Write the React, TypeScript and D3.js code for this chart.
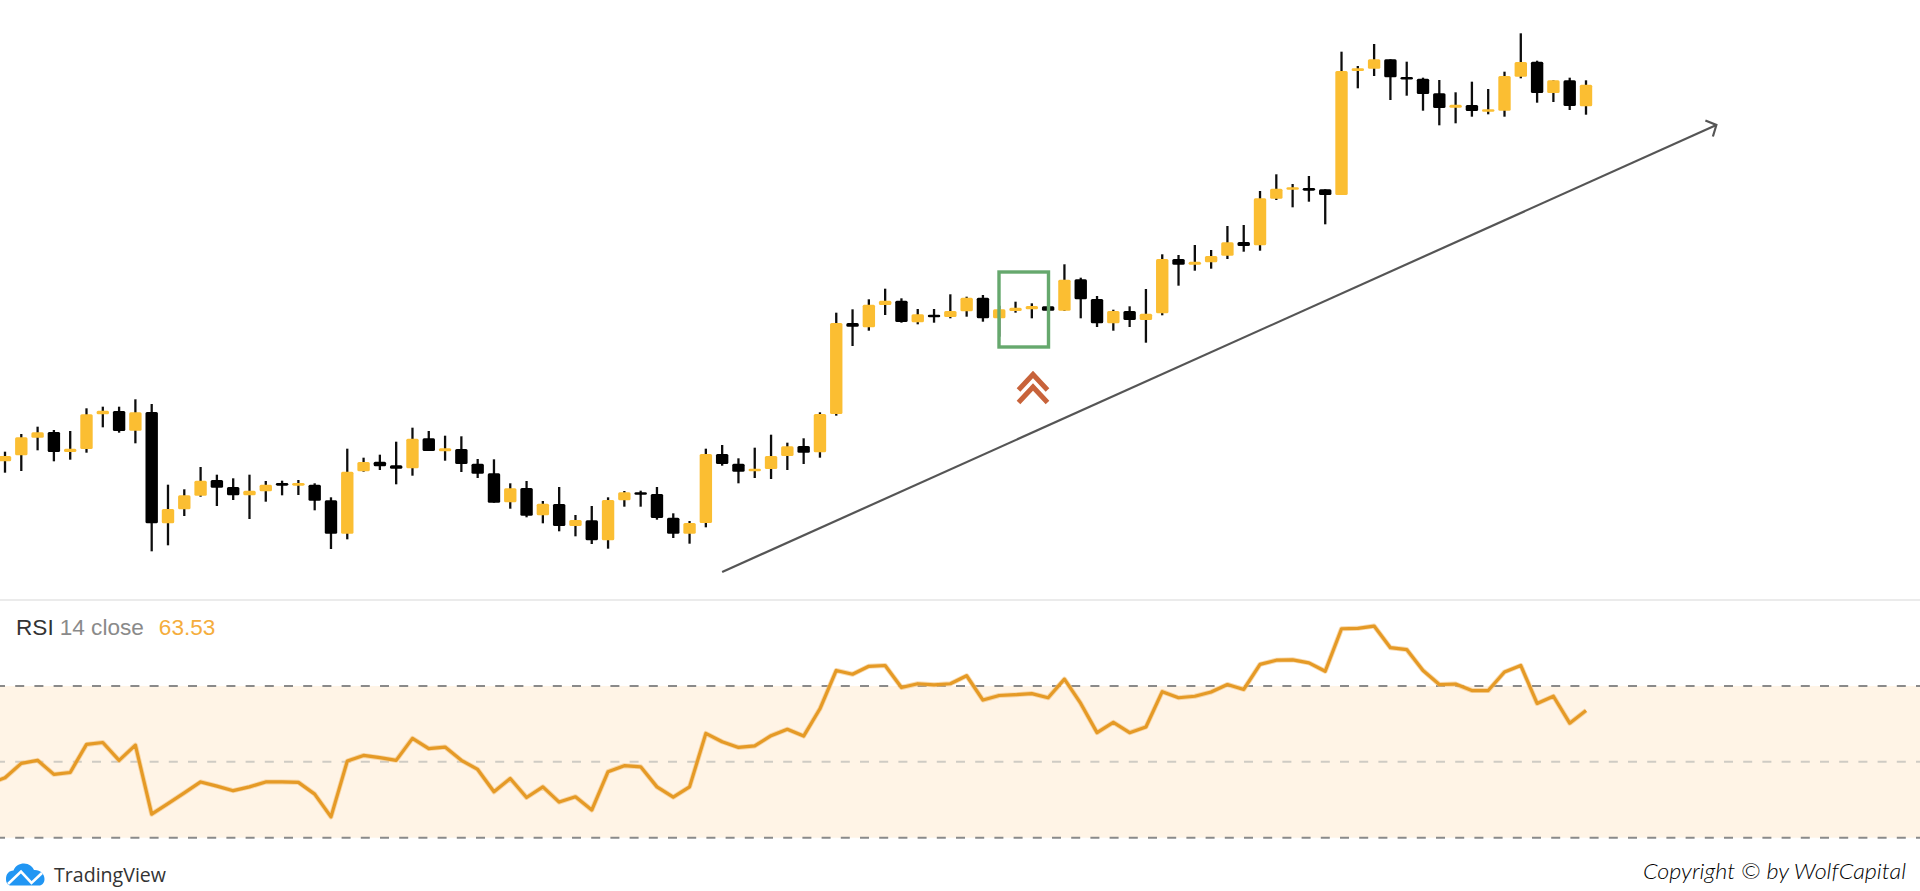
import React from "react";
import * as d3 from "d3";

const highs = [148.3,166,173.3,170,169,191.7,193.3,193.3,200.7,196,115.3,110.7,133,125.3,121.7,125.3,119,119.3,120,116.7,102.7,151.3,142.3,145.3,158.3,172.3,169,164.3,163.7,141,140.7,116.7,119,99,113,85,94,102.7,109,109.3,113,86.7,79,151.3,155,141.7,152.3,165.3,157.3,161.7,187.7,287.3,290.7,300.7,311.3,301.7,291,291,305.7,303.3,305,294.3,298.3,296.7,300,335.7,322.3,304,290.3,293.7,311,345.7,345,355,350,374,375,409,425.7,416,424,410.7,548.3,534,556,540.7,538.3,522.3,520,507.7,518.3,511,528.3,566.7,539.3,519.7,522.3,519.7];
const lows = [127.3,129,149.7,138.7,140.3,147.3,172.7,167.3,156.7,48.7,54.7,84,103.3,94,100,81,98.3,104.7,105,89.7,51,60.7,128.3,130,115.7,124.3,149,139.3,128,122,97.3,91.3,82.7,76.7,68.7,63.7,56,51.3,93.3,93.3,80.3,62,56.3,72.7,134.3,116.7,122,121,130,136,142.3,184.3,254,269.3,285,277.3,275.7,277.3,281.7,283.3,278.3,263.3,287.3,281.7,285,289,281.7,273,269.3,273,257.3,284.7,314.3,329.3,331.3,341,348.3,349.3,400,392.7,398.3,375.7,405,511.7,524,500,504.3,489.3,474.7,476.7,483.3,485.7,483.3,521.7,497.3,498,490,485.3];
const opens = [138.7,144.7,162.3,168,148,151,185.7,189,169.3,188,76.7,90.7,104.3,120,113,104.7,108.7,117,114.3,115.3,99.7,66.3,128.7,138.3,134.7,131.7,161.7,148.7,151,136.3,126.7,97.7,112,84.7,96,74,79.7,59.7,99.7,107.7,106,82.3,66.3,77,146,136.3,128.7,131,144,154,147.7,186,277,272.7,295,299.3,277.7,285.3,283,288.7,302.3,281.7,289,290.7,293.7,289.3,320.7,301,276.7,289,280,286.7,341,335.3,337.7,344.3,358,354.7,401.3,410.7,412,410.7,405,529,531.3,540.7,523,521.3,506.7,492.3,495,488.7,489.3,523.3,538.3,507,519.7,493.7];
const closes = [144,162.7,167.7,148,151.3,185.7,189.3,169,187.7,76.7,91,104.7,119.3,112.3,104.7,109.3,115.3,114.3,117,99.3,66.3,128.3,138,133.7,131.3,161.3,149,151.7,136,126.3,97.3,111.7,84.3,96.3,74,80,59.7,100,107.7,105.3,82,66.3,77,146,136,128.3,131.3,144,153.7,147.3,186,277,273.3,295.3,299.3,278,285.7,282.7,289,302.3,281.7,290.7,292.3,294,289.3,320.3,300.7,276.7,289,280,286.3,341,335.3,338.3,344,357.7,354,401.7,411.3,412.7,409.3,405,529,531.7,540.7,522.7,521,506,492,495.3,489,490.7,524,538,507,519.7,494,515.3];
// The first value belongs to the bar just off the left edge of the chart.
const rsi = [44.2,45.8,49.6,50.4,46.7,47.2,54.6,55.1,50.4,54.4,36.2,39,41.8,44.7,43.6,42.4,43.4,44.7,44.7,44.6,41.5,35.5,50.2,51.7,51.1,50.4,56.2,53.5,53.9,50.4,48,42.1,45.6,40.6,43.4,39.4,40.8,37.3,47.4,49,48.7,43.4,40.7,43.4,57.5,55.3,53.8,54.2,56.9,58.6,56.8,64,74.1,73.1,75.2,75.4,69.6,70.6,70.3,70.6,72.7,66.3,67.5,67.7,68,66.9,71.8,65.4,57.7,60.4,57.7,59.2,68.5,66.9,67.3,68.4,70.4,69.1,75.7,76.8,76.9,76.1,73.9,85.1,85.2,85.8,80.1,79.6,74.1,70.4,70.5,68.8,68.8,73.7,75.4,65.4,67.3,60.2,63.53];
const rsiLevels = [70, 50, 30];
const trendStart = { i: 44.0, price: 28 };
const trendEnd = { i: 105, price: 475 };

const YELLOW = "#fbbe33";
const W = 1920, H = 891;

export default function App() {
  const x = d3.scaleLinear().domain([0, 97]).range([5, 1586]);
  const y = d3.scaleLinear().domain([0, 600]).range([600, 0]);
  const ry = d3.scaleLinear().domain([30, 70]).range([837.7, 686]);
  const rsiLine = d3.line<number>().x((_, i) => x(i - 1)).y((d) => ry(d)).curve(d3.curveLinear);
  const bw = 12.4;

  const ax = x(trendStart.i), ay = y(trendStart.price), bx = x(trendEnd.i), by = y(trendEnd.price);

  return (
    <svg width={W} height={H} viewBox={`0 0 ${W} ${H}`} style={{ position: "absolute", left: 0, top: 0, background: "#fff" }}>
      <defs>
        <filter id="soft" x="-2%" y="-2%" width="104%" height="104%">
          <feGaussianBlur stdDeviation="0.45" />
        </filter>
      </defs>

      <g filter="url(#soft)">
        {closes.map((c, i) => {
          const up = c >= opens[i];
          const top = y(Math.max(c, opens[i]));
          const bot = y(Math.min(c, opens[i]));
          return (
            <g key={i}>
              <line x1={x(i)} x2={x(i)} y1={y(highs[i])} y2={y(lows[i])} stroke="#111" strokeWidth={2.3} />
              <rect x={x(i) - bw / 2} y={top} width={bw} height={Math.max(bot - top, 2.4)} rx={1.5} fill={up ? YELLOW : "#000"} />
            </g>
          );
        })}

        <line x1={ax} y1={ay} x2={bx} y2={by} stroke="#555" strokeWidth={2.2} />
        <path d={`M${bx - 11},${by - 4.5} L${bx},${by} L${bx - 3.5},${by + 11.5}`} fill="none" stroke="#555" strokeWidth={2.2} />

        <rect x={999} y={272} width={49.5} height={75} fill="none" stroke="#66a86d" strokeWidth={3.4} />
        <path d="M1018.5,390 L1033,374.5 L1047.5,390" fill="none" stroke="#c8643a" strokeWidth={5} />
        <path d="M1018.5,402.5 L1033,387 L1047.5,402.5" fill="none" stroke="#c8643a" strokeWidth={5} />
      </g>

      <line x1={0} x2={W} y1={600} y2={600} stroke="#e4e4e4" strokeWidth={1.6} />
      <rect x={0} y={ry(70)} width={W} height={ry(30) - ry(70)} fill="#fff4e6" />
      {rsiLevels.map((l) => (
        <line key={l} x1={-4} x2={W} y1={ry(l)} y2={ry(l)} stroke={l === 50 ? "#cfcbc4" : "#8a8a8a"} strokeWidth={2} strokeDasharray="9 10.2" />
      ))}
      <path d={rsiLine(rsi) ?? ""} fill="none" stroke="#f3c27a" strokeWidth={5} strokeLinejoin="round" opacity={0.6} />
      <path d={rsiLine(rsi) ?? ""} fill="none" stroke="#e59a26" strokeWidth={3.2} strokeLinejoin="round" />

      <text x={16} y={635} fontFamily="'Liberation Sans', Arial, sans-serif" fontSize={22.6}>
        <tspan fill="#333">RSI</tspan>
        <tspan fill="#8a8a8a" dx={6}>14 close</tspan>
        <tspan fill="#f5ad3c" dx={15}>63.53</tspan>
      </text>

      <g>
        <path d="M6,879 C6,874 9,870.5 13.5,870.5 C15,866 19.5,863.5 24,863.5 C29,863.5 32.5,866.5 34,870 C40,869.5 44.5,874 44.5,879 C44.5,883 42,885.5 39,885.5 L11,885.5 C8,885.5 6,883 6,879 Z" fill="#2196f3" />
        <path d="M8,884 L21,871.5 L31.5,883 L42,873" fill="none" stroke="#fff" strokeWidth={2.6} />
        <text x={54} y={882} fontFamily="'Open Sans', sans-serif" fontSize={20.5} fill="#333" textLength={112} lengthAdjust="spacingAndGlyphs">TradingView</text>
      </g>

      <text x={1643} y={879} fontFamily="Lato, sans-serif" fontStyle="italic" fontWeight={300} fontSize={22} fill="#000" textLength={263} lengthAdjust="spacingAndGlyphs">Copyright © by WolfCapital</text>
    </svg>
  );
}
